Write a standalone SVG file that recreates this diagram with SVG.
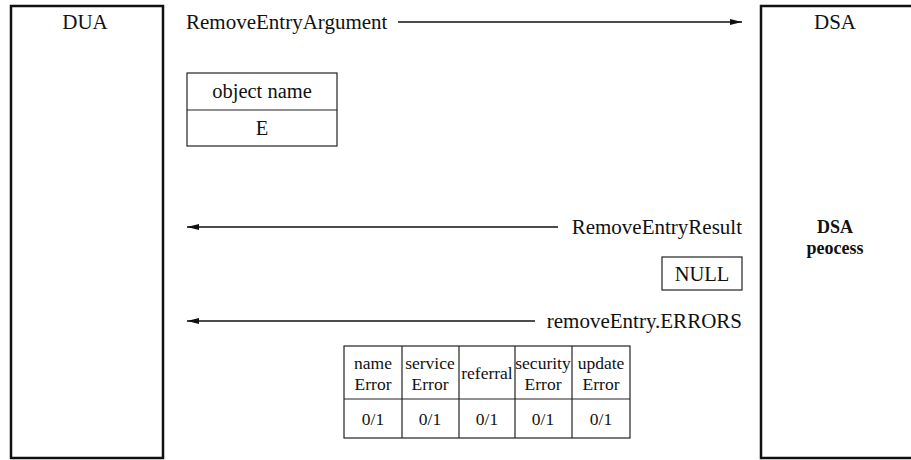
<svg xmlns="http://www.w3.org/2000/svg" width="911" height="460" viewBox="0 0 911 460">
  <style>
    text { font-family: "Liberation Serif", "Times New Roman", serif; fill: #111; }
    .lbl { font-size: 21px; }
    .cell { font-size: 17.5px; text-anchor: middle; }
    .big { font-size: 20.5px; text-anchor: middle; }
    .bold { font-weight: bold; font-size: 18px; text-anchor: middle; }
    .frame { fill: #fff; stroke: #111; stroke-width: 2.5; }
    .box { fill: none; stroke: #222; stroke-width: 1.2; }
    .conn { stroke: #111; stroke-width: 1.3; fill: none; }
  </style>
  <defs>
    <marker id="arrow" viewBox="0 0 12 6" refX="12" refY="3" markerWidth="12" markerHeight="6" markerUnits="userSpaceOnUse" orient="auto">
      <path d="M0,0 L12,3 L0,6 Z" fill="#111"/>
    </marker>
  </defs>
  <rect width="911" height="460" fill="#fff"/>

  <!-- DUA -->
  <g id="dua">
    <rect class="frame" x="11" y="6" width="152" height="452"/>
    <text class="lbl" x="85" y="29" text-anchor="middle">DUA</text>
  </g>

  <!-- DSA -->
  <g id="dsa">
    <rect class="frame" x="761" y="6" width="160" height="452"/>
    <text class="lbl" x="835" y="29" text-anchor="middle">DSA</text>
    <text class="bold" x="835" y="233">DSA</text>
    <text class="bold" x="835" y="254">peocess</text>
  </g>

  <!-- Argument: object name / E -->
  <g id="argument">
    <text class="lbl" x="186" y="29">RemoveEntryArgument</text>
    <rect class="box" x="187" y="73" width="150" height="73"/>
    <line class="box" x1="187" y1="110" x2="337" y2="110"/>
    <text class="big" x="262" y="98">object name</text>
    <text class="big" x="262" y="135">E</text>
  </g>

  <!-- Result: NULL -->
  <g id="result">
    <text class="lbl" x="742" y="234" text-anchor="end">RemoveEntryResult</text>
    <rect class="box" x="662" y="257" width="80" height="33"/>
    <text class="big" x="702" y="281">NULL</text>
  </g>

  <!-- Errors table -->
  <g id="errors">
    <text class="lbl" x="742" y="328" text-anchor="end">removeEntry.ERRORS</text>
    <rect class="box" x="344" y="346" width="286" height="92"/>
    <line class="box" x1="344" y1="399" x2="630" y2="399"/>
    <line class="box" x1="402" y1="346" x2="402" y2="438"/>
    <line class="box" x1="459" y1="346" x2="459" y2="438"/>
    <line class="box" x1="515" y1="346" x2="515" y2="438"/>
    <line class="box" x1="572" y1="346" x2="572" y2="438"/>
    <text class="cell" x="373" y="369">name</text>
    <text class="cell" x="373" y="390">Error</text>
    <text class="cell" x="430" y="369">service</text>
    <text class="cell" x="430" y="390">Error</text>
    <text class="cell" x="487" y="379">referral</text>
    <text class="cell" x="543" y="369">security</text>
    <text class="cell" x="543" y="390">Error</text>
    <text class="cell" x="601" y="369">update</text>
    <text class="cell" x="601" y="390">Error</text>
    <text class="cell" x="373" y="425">0/1</text>
    <text class="cell" x="430" y="425">0/1</text>
    <text class="cell" x="487" y="425">0/1</text>
    <text class="cell" x="543" y="425">0/1</text>
    <text class="cell" x="601" y="425">0/1</text>
  </g>

  <!-- Connectors -->
  <g id="connectors">
    <line class="conn" x1="398" y1="22" x2="742" y2="22" marker-end="url(#arrow)"/>
    <line class="conn" x1="558" y1="227" x2="187" y2="227" marker-end="url(#arrow)"/>
    <line class="conn" x1="535" y1="321" x2="187" y2="321" marker-end="url(#arrow)"/>
  </g>
</svg>
